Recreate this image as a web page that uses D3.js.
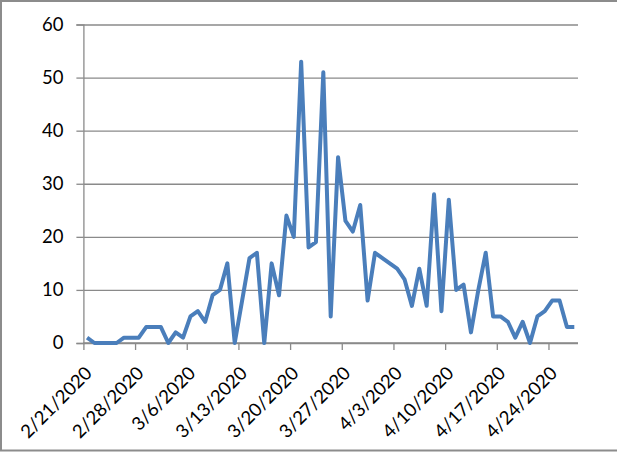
<!DOCTYPE html>
<html>
<head>
<meta charset="utf-8">
<script src="https://cdn.jsdelivr.net/npm/d3@7"></script>
<style>
  html, body { margin: 0; padding: 0; background: #fff; }
  svg { display: block; }
  text { font-family: Lato, "Open Sans", sans-serif; fill: #000; }
</style>
</head>
<body>
<script>
const dates = [
  "2020-02-21","2020-02-22","2020-02-23","2020-02-24","2020-02-25","2020-02-26","2020-02-27","2020-02-28","2020-02-29",
  "2020-03-01","2020-03-02","2020-03-03","2020-03-04","2020-03-05","2020-03-06","2020-03-07","2020-03-08","2020-03-09","2020-03-10",
  "2020-03-11","2020-03-12","2020-03-13","2020-03-14","2020-03-15","2020-03-16","2020-03-17","2020-03-18","2020-03-19","2020-03-20",
  "2020-03-21","2020-03-22","2020-03-23","2020-03-24","2020-03-25","2020-03-26","2020-03-27","2020-03-28","2020-03-29","2020-03-30","2020-03-31",
  "2020-04-01","2020-04-02","2020-04-03","2020-04-04","2020-04-05","2020-04-06","2020-04-07","2020-04-08","2020-04-09","2020-04-10",
  "2020-04-11","2020-04-12","2020-04-13","2020-04-14","2020-04-15","2020-04-16","2020-04-17","2020-04-18","2020-04-19","2020-04-20",
  "2020-04-21","2020-04-22","2020-04-23","2020-04-24","2020-04-25","2020-04-26","2020-04-27"
];
const values = [
  1,0,0,0,0,1,1,1,3,
  3,3,0,2,1,5,6,4,9,10,
  15,0,8,16,17,0,15,9,24,20,
  53,18,19,51,5,35,23,21,26,8,17,
  16,15,14,12,7,14,7,28,6,27,
  10,11,2,10,17,5,5,4,1,4,
  0,5,6,8,8,3,3
];
const tickDates = ["2020-02-21","2020-02-28","2020-03-06","2020-03-13","2020-03-20","2020-03-27","2020-04-03","2020-04-10","2020-04-17","2020-04-24"];
const tickLabels = ["2/21/2020","2/28/2020","3/6/2020","3/13/2020","3/20/2020","3/27/2020","4/3/2020","4/10/2020","4/17/2020","4/24/2020"];
const yTicks = [0,10,20,30,40,50,60];

(function () {
  const W = 617, H = 453;
  const mLeft = 83.4, mRight = 578, mTop = 24.5, mBottom = 343;
  const parse = d3.utcParse("%Y-%m-%d");
  const day = 864e5;

  const svg = d3.select("body").append("svg").attr("width", W).attr("height", H);

  // outer frame
  svg.append("rect").attr("x", 1).attr("y", 1).attr("width", W + 5).attr("height", 449.5)
    .attr("fill", "none").attr("stroke", "#8c8c8c").attr("stroke-width", 2);

  const x = d3.scaleUtc()
    .domain([parse(dates[0]), new Date(parse(dates[dates.length - 1]).getTime() + day)])
    .range([mLeft, mRight]);
  const y = d3.scaleLinear().domain([0, 60]).range([mBottom, mTop]);

  // y axis with gridlines
  const yAxis = svg.append("g").attr("transform", `translate(${mLeft},0)`)
    .call(d3.axisLeft(y).tickValues(yTicks).tickSize(7).tickPadding(13).tickFormat(d3.format("d")));
  yAxis.select(".domain").attr("stroke", "#8a8a8a").attr("stroke-width", 1.3);
  yAxis.selectAll(".tick line").attr("stroke", "#8a8a8a").attr("stroke-width", 1.3);
  yAxis.selectAll(".tick").append("line")
    .attr("x1", 0).attr("x2", mRight - mLeft)
    .attr("stroke", "#8a8a8a").attr("stroke-width", 1.3);
  yAxis.selectAll(".tick text").attr("font-size", 18.5).attr("font-family", "Lato, sans-serif").attr("fill", "#000");

  // x axis
  const xAxis = svg.append("g").attr("transform", `translate(0,${mBottom})`)
    .call(d3.axisBottom(x).tickValues(tickDates.map(parse)).tickSize(7)
      .tickFormat((d, i) => tickLabels[i]));
  xAxis.select(".domain").attr("stroke", "#8a8a8a").attr("stroke-width", 1.3).attr("d", `M${mLeft},0H${mRight}`);
  xAxis.selectAll(".tick line").attr("stroke", "#8a8a8a").attr("stroke-width", 1.3);
  xAxis.selectAll(".tick text")
    .attr("font-size", 18.5).attr("font-family", "Lato, sans-serif").attr("fill", "#000")
    .attr("text-anchor", "end").attr("dy", null).attr("y", 0)
    .attr("transform", "translate(6,28) rotate(-45)")
    .attr("dominant-baseline", "middle");

  // line
  const pts = dates.map((d, i) => ({ t: new Date(parse(d).getTime() + day / 2), v: values[i] }));
  svg.append("path").datum(pts)
    .attr("fill", "none").attr("stroke", "#4a7ebb").attr("stroke-width", 4)
    .attr("stroke-linejoin", "round")
    .attr("d", d3.line().x(d => x(d.t)).y(d => y(d.v)));
})();
</script>
</body>
</html>
